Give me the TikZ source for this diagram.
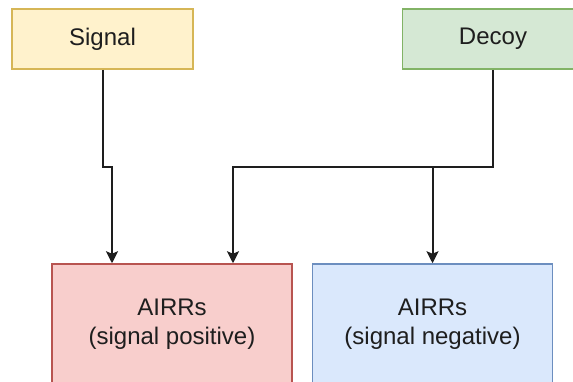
\documentclass[tikz,border=0pt]{standalone}
\usepackage{fontspec}
\setmainfont{Liberation Sans}
\definecolor{sigfill}{HTML}{FFF2CC}
\definecolor{sigline}{HTML}{D6B656}
\definecolor{decfill}{HTML}{D5E8D4}
\definecolor{decline}{HTML}{82B366}
\definecolor{posfill}{HTML}{F8CECC}
\definecolor{posline}{HTML}{B85450}
\definecolor{negfill}{HTML}{DAE8FC}
\definecolor{negline}{HTML}{6C8EBF}
\definecolor{wiregray}{RGB}{30,30,30}
\usetikzlibrary{arrows.meta,positioning}

\begin{document}
\begin{tikzpicture}[x=1pt, y=-1pt,
    box/.style={draw, line width=1.5pt, inner sep=0pt, align=center,
        text=wiregray, font=\fontsize{24}{29}\selectfont},
    topbox/.style={box, minimum width=181pt, minimum height=60pt},
    airrbox/.style={box, minimum width=240pt, minimum height=120pt},
    wire/.style={-{Stealth[length=12pt, width=12pt, inset=2.5pt]}, line width=2pt, draw=wiregray}]
    \useasboundingbox (0,0) rectangle (573,381);
    \clip (0,0) rectangle (573,381);

    % Sources
    \node[topbox, fill=sigfill, draw=sigline] (signal) at (102.5,39) {Signal};
    \node[topbox, fill=decfill, draw=decline] (decoy) at (493,39) {Decoy};

    % Repertoires
    \node[airrbox, fill=posfill, draw=posline] (airrpos) at (172,324) {AIRRs\\(signal positive)};
    \node[airrbox, fill=negfill, draw=negline] (airrneg) at (432.5,324) {AIRRs\\(signal negative)};

    % Connections
    \draw[wire] (signal.south) -- ++(0,97) -| ([xshift=-60pt]airrpos.north);
    \draw[wire] (decoy.south) -- ++(0,97) coordinate (split) -| ([xshift=61pt]airrpos.north);
    \draw[wire] (split -| airrneg.north) -- (airrneg.north);
\end{tikzpicture}
\end{document}
